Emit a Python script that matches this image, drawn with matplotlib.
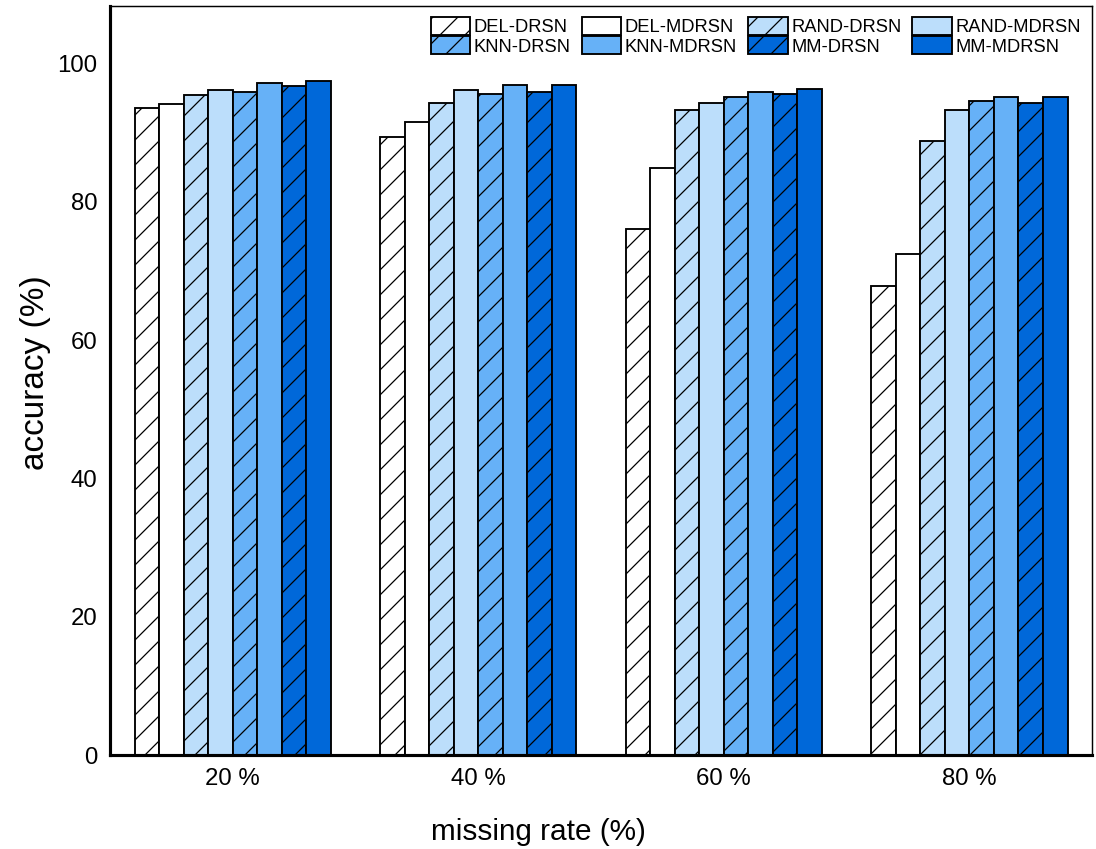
import numpy as np
import matplotlib.pyplot as plt

plt.rcParams['font.family'] = ['Liberation Sans', 'DejaVu Sans']
plt.rcParams['hatch.linewidth'] = 0.6

# missing rate groups
rates = ['20 %', '40 %', '60 %', '80 %']

# accuracy (%) for each method
del_drsn = [93.5, 89.3, 76.1, 67.8]
del_mdrsn = [94.1, 91.5, 84.9, 72.5]
rand_drsn = [95.4, 94.2, 93.2, 88.8]
rand_mdrsn = [96.1, 96.1, 94.2, 93.2]
knn_drsn = [95.9, 95.6, 95.1, 94.5]
knn_mdrsn = [97.1, 96.9, 95.9, 95.2]
mm_drsn = [96.7, 95.9, 95.6, 94.2]
mm_mdrsn = [97.4, 96.9, 96.3, 95.2]

names = ['DEL-DRSN', 'DEL-MDRSN', 'RAND-DRSN', 'RAND-MDRSN',
         'KNN-DRSN', 'KNN-MDRSN', 'MM-DRSN', 'MM-MDRSN']
series = [del_drsn, del_mdrsn, rand_drsn, rand_mdrsn,
          knn_drsn, knn_mdrsn, mm_drsn, mm_mdrsn]
colors = ['white', 'white', '#bcdefb', '#bcdefb',
          '#66b1f7', '#66b1f7', '#0068d9', '#0068d9']
hatches = ['//', '', '//', '', '//', '', '//', '']

fig = plt.figure(figsize=(1096 / 150, 849 / 150), dpi=150)
ax = fig.add_axes([0.1004, 0.1107, 0.896, 0.8823])

x = np.arange(len(rates))
w = 0.1
bars = []
for i, (vals, name) in enumerate(zip(series, names)):
    b = ax.bar(x + (i - 3.5) * w, vals, w, color=colors[i], hatch=hatches[i],
               edgecolor='black', linewidth=0.9, label=name)
    bars.append(b)

ax.set_xlim(-0.5, 3.5)
ax.set_ylim(0, 108.3)
ax.set_xticks(x)
ax.set_xticklabels(rates)
ax.set_yticks([0, 20, 40, 60, 80, 100])
ax.tick_params(length=0, labelsize=11.5, pad=6)

for s in ['left', 'bottom']:
    ax.spines[s].set_linewidth(1.5)
for s in ['top', 'right']:
    ax.spines[s].set_linewidth(0.7)

ax.set_ylabel('accuracy (%)', fontsize=16, va='center')
ax.yaxis.set_label_coords(-0.0754, 0.511)
ax.set_xlabel('missing rate (%)', fontsize=14.3, va='center')
ax.xaxis.set_label_coords(0.436, -0.103)

# legend: row 1 DEL/RAND, row 2 KNN/MM
order = [0, 4, 1, 5, 2, 6, 3, 7]
ax.legend([bars[k] for k in order], [names[k] for k in order], ncol=4,
          loc='upper right', bbox_to_anchor=(1.0, 1.0), frameon=False,
          fontsize=8.8, handlelength=2.15, handleheight=1.15,
          columnspacing=0.6, handletextpad=0.2, labelspacing=0.0,
          borderpad=0.2, borderaxespad=0.4)

fig.savefig('out.png', dpi=150)
